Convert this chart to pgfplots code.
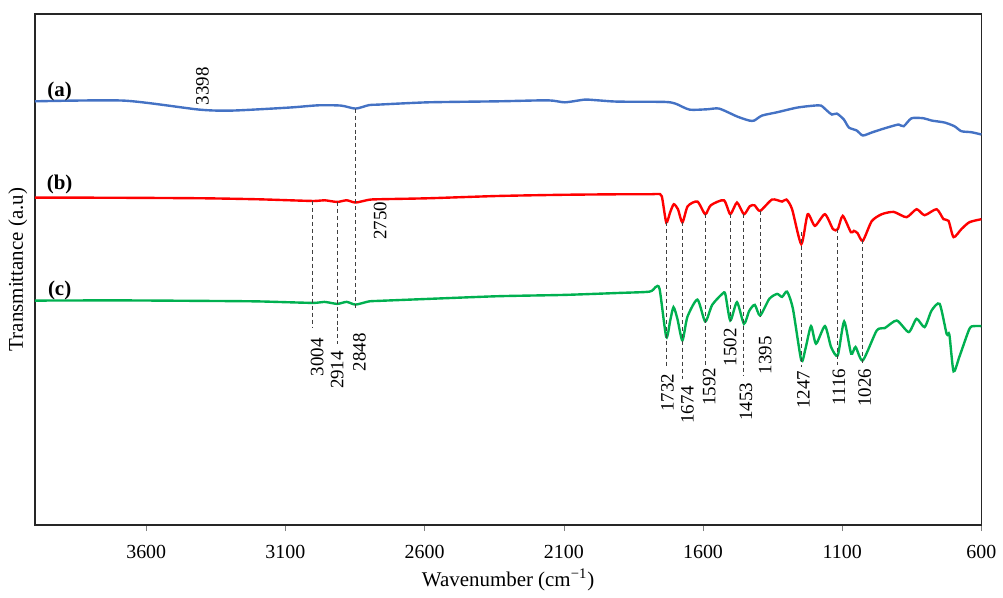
\documentclass[border=0pt]{standalone}
\usepackage{fontspec}
\setmainfont{Liberation Serif}
\usepackage{pgfplots}
\pgfplotsset{compat=1.18}
\definecolor{specblue}{HTML}{4472C4}
\definecolor{specred}{HTML}{FF0000}
\definecolor{specgreen}{HTML}{00B050}

\begin{document}
\begin{tikzpicture}
\begin{axis}[
  scale only axis,width=475pt,height=256.5pt,
  xmin=600,xmax=4000,ymin=-527,ymax=-14,
  x dir=reverse,
  xtick={600,1100,1600,2100,2600,3100,3600},
  ytick=\empty,
  xtick pos=bottom,tick align=outside,
  major tick length=3pt,
  axis line style={line width=0.9pt,black!85},
  /pgf/number format/assume math mode=true,
  /pgf/number format/1000 sep={},
  tick label style={font=\fontsize{10}{11}\selectfont},
  xticklabel style={yshift=-3.5pt},
  xlabel={Wavenumber (cm\textsuperscript{−1})},
  ylabel={Transmittance (a.u)},
  label style={font=\fontsize{10.5}{12}\selectfont},
  xlabel style={at={(axis description cs:0.5,0)},anchor=center,yshift=-27.5pt},
  ylabel style={at={(axis description cs:-0.0179,0.5)},anchor=center},
  clip=false,
]
% (a)
\addplot[specblue,line width=1.2pt,smooth,tension=0.4] coordinates {
(4000,-101.7)(3679,-101)(3410,-110)(3292,-111)(3088,-108)(2981,-105.7)(2900,-106)
(2848,-109)(2800,-105.5)(2766,-105)(2587,-102.7)(2336,-101.7)(2157,-100.7)(2096,-102.7)
(2025,-100)(1978,-100.7)(1907,-102)(1738,-102.3)(1699,-104)(1649,-110)(1585,-109.7)
(1542,-109)(1477,-117)(1434,-121)(1416,-121)(1388,-116)(1334,-112.7)(1262,-108)
(1201,-106)(1176,-106)(1155,-111)(1137,-115)(1119,-114)(1094,-120)(1076,-128)
(1048,-131)(1026,-136)(994,-133)(958,-129.7)(922,-126.7)(897,-125)(879,-126.7)
(851,-118.7)(808,-118.7)(779,-121)(732,-123)(697,-126.7)(672,-131.7)(636,-132.7)(600,-135)};
% (b)
\addplot[specred,line width=1.2pt,smooth,tension=0.4] coordinates {
(4000,-198.3)(3700,-198.5)(3400,-199)(3200,-200)(3004,-201.7)(2960,-201)(2914,-202.7)
(2880,-201)(2848,-203.3)(2800,-200.5)(2766,-200)(2587,-199)(2336,-196.7)(2100,-195.5)
(1900,-195)(1792,-195)(1762,-194.7)(1748,-197)(1732,-223.3)(1718,-213)(1705,-205)
(1690,-210)(1674,-223.3)(1655,-207)(1620,-202.3)(1592,-215)(1572,-206)(1525,-201)
(1502,-215)(1478,-203.3)(1453,-215)(1432,-207)(1415,-206)(1395,-211.7)(1352,-200.3)
(1316,-202.3)(1300,-200.3)(1280,-210)(1247,-245)(1224,-215)(1198,-226.7)(1162,-215)
(1133,-230)(1116,-230)(1098,-216.7)(1069,-233)(1058,-231.7)(1045,-234)(1026,-241.7)
(994,-222)(958,-215)(915,-212.7)(869,-218)(833,-210)(804,-216)(761,-210)(736,-220)
(718,-221.7)(700,-238)(672,-230)(643,-223)(600,-220)};
% (c)
\addplot[specgreen,line width=1.2pt,smooth,tension=0.4] coordinates {
(4000,-301.7)(3700,-301.5)(3400,-302)(3200,-302.5)(3004,-304)(2960,-303)(2914,-305)
(2880,-303)(2848,-305.7)(2800,-302.5)(2766,-302)(2587,-300)(2336,-297.3)(2100,-296)
(1900,-294)(1792,-292.7)(1771,-288.3)(1756,-290)(1732,-338.3)(1718,-322)(1706,-308.3)
(1692,-320)(1674,-341.7)(1656,-318)(1620,-300.7)(1592,-322.7)(1567,-306)(1531,-295)
(1520,-295)(1502,-321.7)(1478,-303.3)(1453,-325)(1434,-312)(1414,-306)(1395,-316.7)
(1362,-300)(1334,-295)(1316,-298)(1298,-292.7)(1277,-310)(1247,-361.7)(1232,-350)
(1212,-327.3)(1194,-345)(1162,-327.3)(1140,-348.3)(1116,-356.7)(1093,-322.7)
(1068,-355)(1052,-348.3)(1026,-361.7)(976,-331.7)(947,-329.3)(904,-321.7)(861,-333.3)
(833,-320)(804,-328.3)(779,-311.7)(750,-305)(725,-335)(715,-336)(700,-372.7)
(679,-358)(643,-330)(625,-327.3)(600,-327.3)};

% peak markers
\begin{scope}[black!75,line width=0.5pt,dash pattern=on 2pt off 1.5pt]
\draw (axis cs:2848,-109) -- (axis cs:2848,-312);
\draw (axis cs:3004,-201.7) -- (axis cs:3004,-328);
\draw (axis cs:2914,-202.7) -- (axis cs:2914,-345);
\draw (axis cs:1732,-223) -- (axis cs:1732,-368);
\draw (axis cs:1674,-223) -- (axis cs:1674,-380);
\draw (axis cs:1592,-215) -- (axis cs:1592,-366);
\draw (axis cs:1502,-215) -- (axis cs:1502,-322);
\draw (axis cs:1453,-215) -- (axis cs:1453,-377);
\draw (axis cs:1395,-211.7) -- (axis cs:1395,-317);
\draw (axis cs:1247,-233) -- (axis cs:1247,-368);
\draw (axis cs:1116,-230) -- (axis cs:1116,-366);
\draw (axis cs:1026,-241) -- (axis cs:1026,-366);
\end{scope}

\begin{scope}[every node/.style={rotate=90,anchor=east,inner sep=1pt,font=\fontsize{9.5}{10}\selectfont}]
\node at (axis cs:3398,-65) {3398};
\node at (axis cs:2760,-200) {2750};
\node at (axis cs:2986,-337) {3004};
\node at (axis cs:2914,-350) {2914};
\node at (axis cs:2834,-332) {2848};
\node at (axis cs:1728,-373) {1732};
\node at (axis cs:1656,-385) {1674};
\node at (axis cs:1578,-367) {1592};
\node at (axis cs:1502,-327) {1502};
\node at (axis cs:1446,-382) {1453};
\node at (axis cs:1377,-335) {1395};
\node at (axis cs:1240,-370) {1247};
\node at (axis cs:1112,-368) {1116};
\node at (axis cs:1019,-368) {1026};
\end{scope}

\begin{scope}[every node/.style={font=\fontsize{10.5}{12}\selectfont\bfseries}]
\node at (axis cs:3911,-92) {(a)};
\node at (axis cs:3911,-185) {(b)};
\node at (axis cs:3911,-292) {(c)};
\end{scope}
\end{axis}
\path (current axis.south west) ++(-17.5pt,-35.5pt);
\path (current axis.north east) ++(9pt,7pt);
\end{tikzpicture}
\end{document}
